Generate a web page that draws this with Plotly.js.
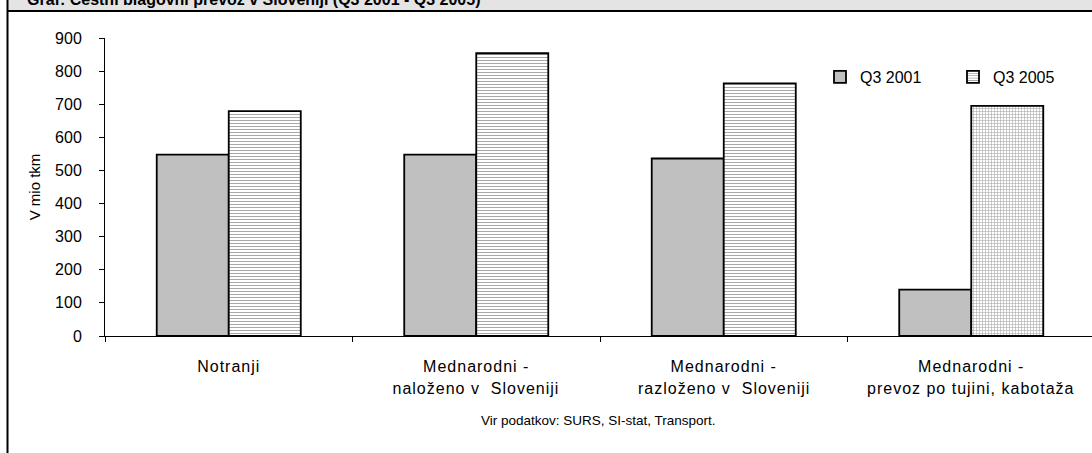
<!DOCTYPE html>
<html>
<head>
<meta charset="utf-8">
<script src="https://cdn.plot.ly/plotly-3.0.1.min.js"></script>
<style>
html, body { margin: 0; padding: 0; overflow: hidden; background: #fff; }
#chart { width: 1095px; height: 453px; }
.xtick text,
.annotation[data-index="2"] text,
.annotation[data-index="3"] text,
.annotation[data-index="4"] text { letter-spacing: 1px; }
</style>
</head>
<body>
<div id="chart"></div>
<script>
// Data
const categories = [
  "Notranji",
  "Mednarodni - naloženo v Sloveniji",
  "Mednarodni - razloženo v Sloveniji",
  "Mednarodni - prevoz po tujini, kabotaža"
];
const labelLine1 = ["Notranji", "Mednarodni -", "Mednarodni -", "Mednarodni -"];
const labelLine2 = ["", "naloženo v  Sloveniji", "razloženo v  Sloveniji", "prevoz po tujini, kabotaža"];
const seriesNames = ["Q3 2001", "Q3 2005"];
const valuesQ3_2001 = [548, 548, 536, 140];
const valuesQ3_2005 = [679, 854, 763, 695];
const yTicks = [0, 100, 200, 300, 400, 500, 600, 700, 800, 900];
const titleText = "Graf: Cestni blagovni prevoz v Sloveniji (Q3 2001 - Q3 2005)";
const sourceText = "Vir podatkov: SURS, SI-stat, Transport.";
const yTitle = "V mio tkm";

const FONT = "Liberation Sans, Arial, sans-serif";

const traces = [
  {
    type: "bar",
    name: seriesNames[0],
    x: categories,
    y: valuesQ3_2001,
    marker: { color: "#c0c0c0", line: { color: "#000", width: 1.8 } },
    hoverinfo: "x+y+name"
  },
  {
    type: "bar",
    name: seriesNames[1],
    x: categories,
    y: valuesQ3_2005,
    marker: {
      color: "#ffffff",
      line: { color: "#000", width: 1.8 },
      pattern: { shape: ["-", "-", "-", "+"], fgcolor: "#a8a8a8", bgcolor: "#ffffff", size: 3, solidity: 0.35 }
    },
    hoverinfo: "x+y+name"
  }
];

// pixel helpers for paper-referenced decorations (plot area: x 105..1095, y 38..336)
const plotL = 105, plotW = 990, plotT = 38, plotH = 298;
const px = v => (v - plotL) / plotW;
const py = v => (plotT + plotH - v) / plotH;

const secondLineAnnotations = categories.map((c, i) => ({
  text: labelLine2[i],
  xref: "x", yref: "paper", x: c, y: py(388), xanchor: "center", yanchor: "middle",
  showarrow: false, font: { family: FONT, size: 16, color: "#000" }
})).filter((a, i) => labelLine2[i] !== "");

const layout = {
  width: 1095,
  height: 453,
  margin: { l: plotL, r: 0, t: plotT, b: 453 - plotT - plotH, pad: 0 },
  paper_bgcolor: "#ffffff",
  plot_bgcolor: "#ffffff",
  font: { family: FONT, size: 15, color: "#000" },
  barmode: "group",
  bargap: 0.418,
  bargroupgap: 0,
  showlegend: true,
  legend: {
    orientation: "h",
    x: px(820), xanchor: "left",
    y: py(77), yanchor: "middle",
    font: { family: FONT, size: 16, color: "#000" },
    bgcolor: "rgba(0,0,0,0)",
    entrywidth: 88,
    entrywidthmode: "pixels",
    traceorder: "normal"
  },
  xaxis: {
    type: "category",
    categoryorder: "array",
    categoryarray: categories,
    tickmode: "array",
    tickvals: categories,
    ticktext: labelLine1,
    tickson: "boundaries",
    ticks: "outside",
    ticklen: 5,
    tickcolor: "#000",
    tickwidth: 1,
    showline: true,
    linecolor: "#000",
    linewidth: 1,
    showgrid: false,
    zeroline: false,
    ticklabelstandoff: 16,
    tickfont: { family: FONT, size: 16, color: "#000" },
    automargin: false,
    fixedrange: true
  },
  yaxis: {
    range: [0, 900],
    tickmode: "array",
    tickvals: yTicks,
    ticks: "outside",
    ticklen: 5,
    tickcolor: "#000",
    showline: true,
    linecolor: "#000",
    linewidth: 1,
    showgrid: false,
    zeroline: false,
    ticklabelstandoff: 14,
    tickfont: { family: FONT, size: 16, color: "#000" },
    title: { text: yTitle, font: { family: FONT, size: 15, color: "#000" }, standoff: 10 },
    automargin: false,
    fixedrange: true
  },
  shapes: [
    { type: "rect", xref: "paper", yref: "paper", x0: px(7), x1: px(1100), y0: py(11), y1: py(-20),
      fillcolor: "#e4e4e4", line: { width: 0 }, layer: "below" },
    { type: "line", xref: "paper", yref: "paper", x0: px(7), x1: px(1100), y0: py(11), y1: py(11),
      line: { color: "#000", width: 2 } },
    { type: "line", xref: "paper", yref: "paper", x0: px(7.5), x1: px(7.5), y0: py(-20), y1: py(470),
      line: { color: "#000", width: 2 } }
  ],
  annotations: [
    { text: "<b>" + titleText + "</b>", xref: "paper", yref: "paper", x: px(25), xanchor: "left",
      y: py(-1), yanchor: "middle", showarrow: false, font: { family: FONT, size: 16, color: "#000" } },
    { text: sourceText, xref: "paper", yref: "paper", x: px(598), xanchor: "center",
      y: py(420), yanchor: "middle", showarrow: false, font: { family: FONT, size: 13.5, color: "#000" } }
  ].concat(secondLineAnnotations)
};

Plotly.newPlot("chart", traces, layout, { displayModeBar: false, staticPlot: true });
</script>
</body>
</html>
